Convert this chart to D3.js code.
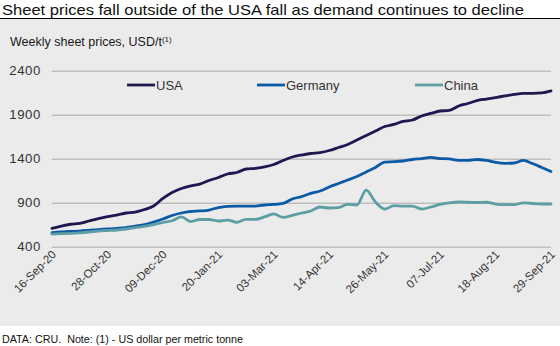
<!DOCTYPE html>
<html>
<head>
<meta charset="utf-8">
<script src="https://cdn.jsdelivr.net/npm/d3@7"></script>
<style>
  body { margin: 0; background: #fff; }
  svg { display: block; font-family: Arial, "Liberation Sans", sans-serif; }
</style>
</head>
<body>
<script>
const width = 560
const height = 346

// weekly prices, USD/t, first week 16-Sep-20
const firstWeek = '16-Sep-20'
const lastWeek = '29-Sep-21'
const usa = [609, 635, 655, 664, 692, 720, 743, 760, 783, 794, 823, 862, 948, 1016, 1061, 1090, 1112, 1152, 1186, 1226,
  1243, 1283, 1291, 1306, 1334, 1380, 1419, 1442, 1459, 1470, 1493, 1527, 1561, 1612, 1664, 1715, 1766, 1789, 1823, 1840,
  1885, 1914, 1942, 1948, 1999, 2027, 2061, 2078, 2095, 2113, 2130, 2143, 2143, 2147, 2170]
const germany = [559, 567, 573, 578, 586, 595, 601, 609, 618, 635, 652, 681, 715, 755, 783, 800, 806, 817, 845, 859,
  862, 862, 862, 874, 880, 891, 942, 970, 1005, 1033, 1078, 1118, 1158, 1198, 1249, 1300, 1362, 1366, 1374, 1391,
  1402, 1414, 1402, 1397, 1380, 1380, 1391, 1380, 1359, 1348, 1351, 1380, 1345, 1300, 1255]
const china = [544, 548, 552, 558, 567, 578, 584, 590, 601, 618, 630, 652, 675, 695, 738, 686, 709, 709, 692, 703,
  677, 711, 711, 738, 772, 734, 755, 783, 806, 851, 840, 845, 880, 874, 1044, 908, 828, 866, 862, 862,
  828, 851, 880, 897, 908, 905, 902, 905, 885, 877, 877, 899, 891, 885, 885]

const seriesNames = ['USA', 'Germany', 'China']
const seriesColors = ['#1d1850', '#0b5aa6', '#5c9ea3']
const yTicks = [400, 900, 1400, 1900, 2400]
const xTickLabels = ['16-Sep-20', '28-Oct-20', '09-Dec-20', '20-Jan-21', '03-Mar-21', '14-Apr-21',
  '26-May-21', '07-Jul-21', '18-Aug-21', '29-Sep-21']

const parse = d3.timeParse('%d-%b-%y')
const fmt = d3.timeFormat('%d-%b-%y')
const weeks = d3.timeDay.range(parse(firstWeek), d3.timeDay.offset(parse(lastWeek), 1), 7)
const series = [usa, germany, china]

const svg = d3.select('body').append('svg')
  .attr('width', width)
  .attr('height', height)

// title + rule
svg.append('text')
  .attr('x', 2).attr('y', 15)
  .attr('font-size', 14.5)
  .attr('fill', '#111')
  .attr('textLength', 522)
  .attr('lengthAdjust', 'spacingAndGlyphs')
  .text('Sheet prices fall outside of the USA fall as demand continues to decline')

svg.append('rect')
  .attr('x', 0).attr('y', 19)
  .attr('width', width).attr('height', 307)
  .attr('fill', '#ebebeb')

svg.append('line')
  .attr('x1', 0).attr('x2', width)
  .attr('y1', 18.5).attr('y2', 18.5)
  .attr('stroke', '#000').attr('stroke-width', 1.2)

const sub = svg.append('text')
  .attr('x', 10).attr('y', 46)
  .attr('font-size', 12.5)
  .attr('fill', '#1a1a1a')
sub.append('tspan').text('Weekly sheet prices, USD/t')
sub.append('tspan').attr('font-size', 8).attr('dy', -4).text('(1)')

const x = d3.scaleTime()
  .domain(d3.extent(weeks))
  .range([52, 551])

const y = d3.scaleLinear()
  .domain([400, 2400])
  .range([246.7, 70.7])

// y gridlines and labels
const yAxis = d3.axisLeft(y)
  .tickValues(yTicks)
  .tickSize(-(551 - 52))
  .tickPadding(11)
  .tickFormat(d3.format('d'))

svg.append('g')
  .attr('transform', 'translate(52,0)')
  .call(yAxis)
  .call(g => g.select('.domain').remove())
  .call(g => g.selectAll('.tick line').attr('stroke', '#a8a8a8'))
  .call(g => g.selectAll('.tick text')
    .attr('font-size', 13.2)
    .attr('fill', '#333')
    .attr('letter-spacing', 0.6)
    .attr('font-family', 'Arial, "Liberation Sans", sans-serif'))

// x axis labels, rotated
const xAxis = d3.axisBottom(x)
  .tickValues(xTickLabels.map(parse))
  .tickFormat(fmt)
  .tickSize(0)

svg.append('g')
  .attr('transform', 'translate(0,250)')
  .call(xAxis)
  .call(g => g.select('.domain').remove())
  .call(g => g.selectAll('.tick text')
    .attr('font-size', 11.5)
    .attr('fill', '#333')
    .attr('font-family', 'Arial, "Liberation Sans", sans-serif')
    .attr('text-anchor', 'end')
    .attr('dy', '0.5em')
    .attr('transform', 'translate(-2,-1) rotate(-45)'))

// lines
const line = d3.line()
  .x((d, i) => x(weeks[i]))
  .y(d => y(d))
  .curve(d3.curveMonotoneX)

svg.append('g')
  .selectAll('path')
  .data(series)
  .join('path')
  .attr('d', line)
  .attr('fill', 'none')
  .attr('stroke', (d, i) => seriesColors[i])
  .attr('stroke-width', 2.8)
  .attr('stroke-linejoin', 'round')
  .attr('stroke-linecap', 'round')

// legend
const legendX = [127, 257, 415]
const legend = svg.append('g')
  .selectAll('g')
  .data(seriesNames)
  .join('g')
  .attr('transform', (d, i) => `translate(${legendX[i]},85)`)

legend.append('line')
  .attr('x1', 0).attr('x2', 28)
  .attr('stroke', (d, i) => seriesColors[i])
  .attr('stroke-width', 2.8)

legend.append('text')
  .attr('x', 29).attr('y', 4.5)
  .attr('font-size', 13)
  .attr('fill', '#333')
  .text(d => d)

// footer
svg.append('text')
  .attr('x', 2).attr('y', 343)
  .attr('font-size', 10.5)
  .attr('fill', '#111')
  .attr('textLength', 241)
  .attr('lengthAdjust', 'spacingAndGlyphs')
  .style('white-space', 'pre')
  .text('DATA: CRU.  Note: (1) - US dollar per metric tonne')
</script>
</body>
</html>
